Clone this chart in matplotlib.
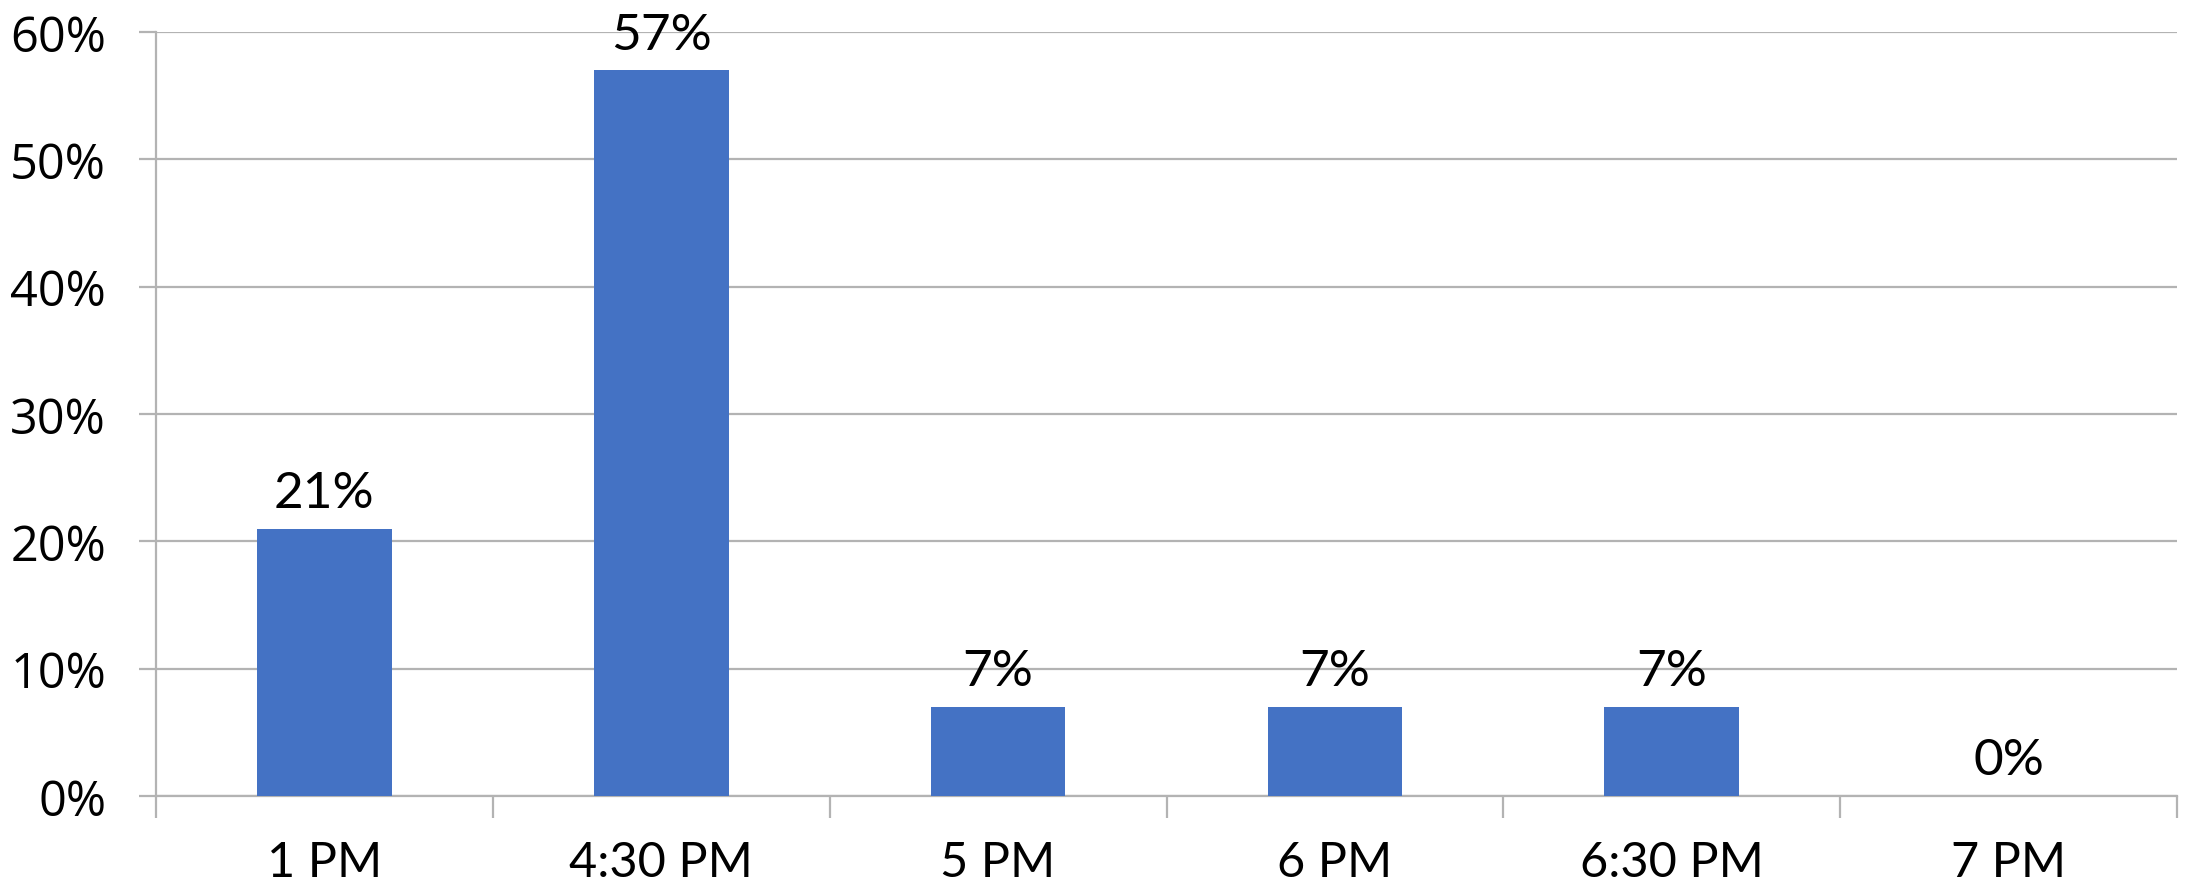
import matplotlib
matplotlib.use("Agg")
import matplotlib.pyplot as plt
from matplotlib.ticker import FuncFormatter, FixedLocator

categories = ["1 PM", "4:30 PM", "5 PM", "6 PM", "6:30 PM", "7 PM"]
shares = [0.21, 0.57, 0.07, 0.07, 0.07, 0.00]
y_ticks = [0, 0.1, 0.2, 0.3, 0.4, 0.5, 0.6]

bar_color = "#4472C4"
grid_color = "#b3b3b3"

fig = plt.figure(figsize=(21.88, 8.87), dpi=100)
ax = fig.add_axes([0.0713, 0.1015, 0.9237, 0.8613])

x = list(range(len(categories)))
ax.bar(x, shares, width=0.4, color=bar_color, zorder=3)

for xi, v in zip(x, shares):
    ax.annotate(f"{v:.0%}", (xi, v), xytext=(0, 9), textcoords="offset points",
                ha="center", va="bottom", fontsize=37, family="Lato")

ax.set_xlim(-0.5, len(categories) - 0.5)
ax.set_ylim(0, 0.6)
ax.set_yticks(y_ticks)
ax.yaxis.set_major_formatter(FuncFormatter(lambda v, p: f"{v:.0%}"))
ax.grid(axis="y", color=grid_color, linewidth=1.6, zorder=0)
ax.tick_params(axis="y", length=12, width=1.6, color=grid_color, labelsize=35, pad=24)
for lab in ax.get_yticklabels():
    lab.set_family("Open Sans")

ax.set_xticks(x)
ax.set_xticklabels(categories, family="Lato", fontsize=35)
ax.tick_params(axis="x", which="major", length=0, pad=32)
ax.xaxis.set_minor_locator(FixedLocator([i - 0.5 for i in range(len(categories) + 1)]))
ax.tick_params(axis="x", which="minor", length=16, width=1.6, color=grid_color)

for s in ["top", "right"]:
    ax.spines[s].set_visible(False)
for s in ["left", "bottom"]:
    ax.spines[s].set_color(grid_color)
    ax.spines[s].set_linewidth(1.6)

fig.savefig("out.png", dpi=100, facecolor="white")
